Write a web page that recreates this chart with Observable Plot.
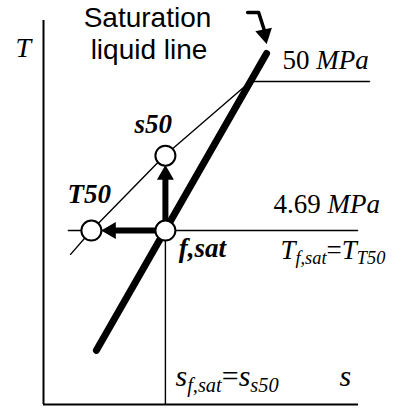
<!DOCTYPE html>
<html><head><meta charset="utf-8">
<script src="https://cdn.jsdelivr.net/npm/d3@7"></script>
<script src="https://cdn.jsdelivr.net/npm/@observablehq/plot@0.6"></script>
<style>body{margin:0;background:#fff}</style>
</head><body><div id="chart"></div>
<script>
// ---- data (s = entropy, T = temperature, arbitrary units 0..100) ----
const satS = [16.8, 70.8];            // saturation liquid line
const satT = [14.1, 91.4];
const iso50S = [8.6, 15.2, 38.4, 65.7, 103.5];   // 50 MPa isobar
const iso50T = [39.1, 45.3, 64.8, 84.1, 84.1];
const iso469S = [7.9, 99.7];           // 4.69 MPa isobar
const iso469T = [45.3, 45.3];
const stateNames = ["T50", "s50", "f,sat"];
const stateS = [15.2, 38.7, 38.7];
const stateT = [45.3, 64.8, 45.3];
const dropS = [38.7, 38.7];            // s_f,sat = s_s50 guide
const dropT = [0, 45.3];
const shaftS1 = [38.7, 38.7];
const shaftT1 = [45.3, 45.3];
const shaftS2 = [38.7, 21.4];
const shaftT2 = [59.8, 45.3];
const headS = [38.7, 21.4, 70.2];
const headT = [59.8, 45.3, 96.4];
const headRot = [0, -90, 168];
const hookS = [64.8, 68.3, 70.0];
const hookT = [102.1, 102.1, 97.7];

const sansText = ["Saturation", "liquid line"];
const sansS = [33.0, 33.5];
const sansT = [98.3, 90.1];
const serifText = ["<i>T</i>", "50 <i>MPa</i>", "4.69 <i>MPa</i>",
  "<i>T</i><sub>f,sat</sub>=<i>T</i><sub>T50</sub>",
  "<i>s</i><sub>f,sat</sub>=<i>s</i><sub>s50</sub>", "<i>s</i>"];
const serifS = [-8.9, 75.9, 73.0, 75.2, 41.9, 94.0];
const serifT = [90.4, 87.5, 50.0, 38.0, 4.9, 4.9];
const serifSize = [28, 27, 27, 27, 30, 30];
const boldText = ["s50", "T50", "f,sat"];
const boldS = [28.9, 7.6, 42.9];
const boldT = [70.6, 52.6, 38.3];

const serif = "'Liberation Serif', 'Times New Roman', serif";
const sans = "'Liberation Sans', Arial, sans-serif";
const arr = a => ({length: a.length});

const chart = Plot.plot({
  width: 404, height: 408,
  margin: 0,
  x: {domain: [0, 100], range: [43, 358], axis: null},
  y: {domain: [0, 100], range: [404, 20], axis: null},
  style: {background: "white", overflow: "visible"},
  marks: [
    Plot.ruleX([0], {y1: 0, y2: 100, strokeWidth: 2}),
    Plot.ruleY([0], {x1: 0, x2: 100, strokeWidth: 2}),
    Plot.line(arr(iso50S), {x: iso50S, y: iso50T, strokeWidth: 1.4}),
    Plot.line(arr(iso469S), {x: iso469S, y: iso469T, strokeWidth: 1.4}),
    Plot.line(arr(dropS), {x: dropS, y: dropT, strokeWidth: 1.4}),
    Plot.line(arr(satS), {x: satS, y: satT, strokeWidth: 7, strokeLinecap: "round"}),
    Plot.link(arr(shaftS1), {x1: shaftS1, y1: shaftT1, x2: shaftS2, y2: shaftT2, strokeWidth: 6}),
    Plot.line(arr(hookS), {x: hookS, y: hookT, strokeWidth: 3.5, strokeLinejoin: "round"}),
    Plot.dot(arr(headS), {x: headS, y: headT, rotate: headRot, symbol: "triangle", r: 6.3, fill: "black", stroke: "none"}),
    Plot.dot(arr(stateS), {x: stateS, y: stateT, r: 10, fill: "white", stroke: "black", strokeWidth: 2, title: stateNames}),
    Plot.text(arr(sansText), {x: sansS, y: sansT, text: sansText, fontFamily: sans, fontSize: 28, textAnchor: "middle", lineAnchor: "bottom", fill: "black"}),
    Plot.text(arr(serifText), {x: serifS, y: serifT, text: serifText, fontFamily: serif, fontSize: serifSize, textAnchor: "start", lineAnchor: "bottom", fill: "black"}),
    Plot.text(arr(boldText), {x: boldS, y: boldT, text: boldText, fontFamily: serif, fontSize: 27, fontWeight: "bold", fontStyle: "italic", textAnchor: "start", lineAnchor: "bottom", fill: "black"})
  ]
});
document.getElementById("chart").appendChild(chart);

// rich text: italic parts and subscripts
chart.querySelectorAll("text").forEach(t => {
  const s = t.textContent;
  if (!s.includes("<")) return;
  const fs = parseFloat(getComputedStyle(t).fontSize);
  t.textContent = "";
  const re = /<(i|sub)>(.*?)<\/\1>|([^<]+)/g;
  let m, shift = 0;
  while ((m = re.exec(s))) {
    const ts = document.createElementNS("http://www.w3.org/2000/svg", "tspan");
    ts.textContent = m[3] !== undefined ? m[3] : m[2];
    if (m[1]) ts.setAttribute("font-style", "italic");
    const want = m[1] === "sub" ? fs * 0.2 : 0;
    if (want !== shift) { ts.setAttribute("dy", want - shift); shift = want; }
    if (m[1] === "sub") ts.setAttribute("font-size", fs * 0.68);
    t.appendChild(ts);
  }
});
</script>
</body></html>
